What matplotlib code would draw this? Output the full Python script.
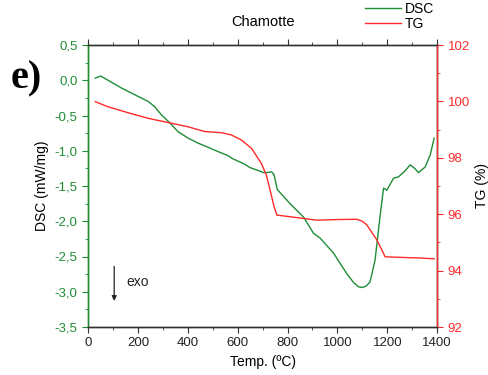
import numpy as np
import matplotlib.pyplot as plt
from matplotlib.ticker import MultipleLocator, FuncFormatter

plt.rcParams['font.family'] = ['Liberation Sans', 'DejaVu Sans']

# DSC curve
dsc_t = [29, 51, 90, 134, 190, 241, 267, 294, 327, 361, 401, 440, 481, 520, 562,
         578, 628, 650, 682, 703, 715, 737, 746, 759, 810, 864, 904, 931, 984,
         1037, 1065, 1085, 1100, 1115, 1131, 1151, 1171, 1185, 1198, 1225, 1245,
         1270, 1292, 1310, 1325, 1352, 1372, 1388]
dsc_v = [0.03, 0.06, -0.02, -0.11, -0.21, -0.30, -0.375, -0.49, -0.60, -0.73,
         -0.82, -0.89, -0.95, -1.01, -1.07, -1.11, -1.19, -1.24, -1.28, -1.31,
         -1.31, -1.30, -1.34, -1.55, -1.75, -1.94, -2.17, -2.24, -2.45, -2.74,
         -2.87, -2.93, -2.94, -2.92, -2.86, -2.55, -1.93, -1.53, -1.56, -1.39,
         -1.37, -1.29, -1.20, -1.25, -1.31, -1.23, -1.06, -0.82]

# TG curve
tg_t = [29, 80, 160, 241, 327, 401, 468, 535, 575, 615, 655, 695, 715, 730, 745,
        757, 810, 864, 917, 1000, 1078, 1100, 1118, 1158, 1180, 1191, 1250, 1320,
        1388]
tg_v = [99.99, 99.81, 99.60, 99.40, 99.24, 99.10, 98.93, 98.89, 98.81, 98.63,
        98.34, 97.80, 97.39, 96.86, 96.30, 95.97, 95.91, 95.85, 95.79, 95.81,
        95.82, 95.75, 95.62, 95.09, 94.70, 94.49, 94.47, 94.45, 94.42]

green = '#1f8c36'
red = '#ff2a2a'

fig = plt.figure(figsize=(4.89, 3.75), dpi=100)
ax = fig.add_axes([0.18, 0.128, 0.714, 0.752])
ax2 = ax.twinx()

l1, = ax.plot(dsc_t, dsc_v, color=green, lw=1.0, label='DSC')
l2, = ax2.plot(tg_t, tg_v, color=red, lw=1.0, label='TG')

ax.set_xlim(0, 1400)
ax.set_ylim(-3.5, 0.5)
ax2.set_ylim(92, 102)

ax.xaxis.set_major_locator(MultipleLocator(200))
ax.xaxis.set_minor_locator(MultipleLocator(100))
ax.yaxis.set_major_locator(MultipleLocator(0.5))
ax.yaxis.set_minor_locator(MultipleLocator(0.25))
ax2.yaxis.set_major_locator(MultipleLocator(2))
ax2.yaxis.set_minor_locator(MultipleLocator(1))
ax.yaxis.set_major_formatter(FuncFormatter(lambda v, p: f'{v:.1f}'.replace('.', ',')))

ax.tick_params(axis='x', which='both', direction='out', top=True, labelsize=9.5,
               colors='#333333', labelcolor='#222222')
ax.tick_params(axis='x', which='major', length=4)
ax.tick_params(axis='x', which='minor', length=2.5)
ax.tick_params(axis='y', which='both', direction='out', colors=green, labelsize=9.5)
ax.tick_params(axis='y', which='major', length=4)
ax.tick_params(axis='y', which='minor', length=2.5)
ax2.tick_params(axis='y', which='both', direction='out', colors=red, labelsize=9.5)
ax2.tick_params(axis='y', which='major', length=4)
ax2.tick_params(axis='y', which='minor', length=2.5)

ax.spines['left'].set_color(green)
ax2.spines['left'].set_color(green)
ax2.spines['right'].set_color(red)
for s in ['top', 'bottom']:
    ax.spines[s].set_color('#333333')
    ax2.spines[s].set_color('#333333')
for a in (ax, ax2):
    for s in a.spines.values():
        s.set_linewidth(1.0)

ax.set_xlabel('Temp. (ºC)', fontsize=10)
ax.set_ylabel('DSC (mW/mg)', fontsize=10)
ax2.set_ylabel('TG (%)', fontsize=10)
ax.set_title('Chamotte', fontsize=10.5, pad=14)

fig.legend(handles=[l1, l2], loc='upper left', bbox_to_anchor=(0.735, 1.01),
           frameon=False, fontsize=10, handlelength=2.6, handletextpad=0.3,
           labelspacing=0.05, borderaxespad=0)

fig.text(0.022, 0.765, 'e)', fontsize=29, fontweight='bold', family='Liberation Serif')

ax.annotate('', xy=(105, -3.17), xytext=(105, -2.6),
            arrowprops=dict(arrowstyle='-|>', color='#222222', lw=0.9,
                            mutation_scale=7))
ax.text(155, -2.86, 'exo', fontsize=10, va='center', color='#222222')

fig.savefig('out.png', dpi=100)
